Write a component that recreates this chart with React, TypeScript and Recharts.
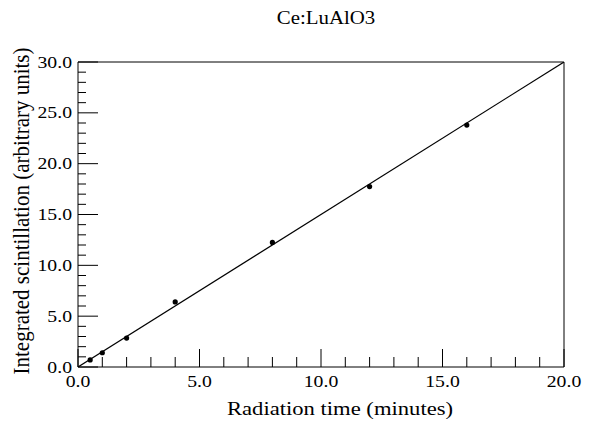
import { ComposedChart, XAxis, YAxis, Line, Scatter, ReferenceLine } from "recharts";

// measured points
const radiationTime = [0.5, 1, 2, 4, 8, 12, 16];
const scintillation = [0.7, 1.4, 2.85, 6.4, 12.25, 17.75, 23.8];

// straight fit drawn through the data
const fitTime = [0, 20];
const fitValue = [0, 30];

const xTicks = Array.from({ length: 21 }, (_, i) => i);
const yTicks = Array.from({ length: 31 }, (_, i) => i);

const points = radiationTime.map((t, i) => ({ t, v: scintillation[i] }));
const fit = fitTime.map((t, i) => ({ t, v: fitValue[i] }));

const FONT = "'Liberation Serif', 'DejaVu Serif', serif";
const TM = 6;
// the scanned figure is a bit wider than tall, so text is stretched sideways
const SX = 1.16;

const XTick = (props: any) => {
  const { x, y, payload } = props;
  const major = payload.value % 5 === 0;
  const base = y - TM;
  return (
    <g>
      <line x1={x} x2={x} y1={base} y2={base - (major ? 18 : 10)} stroke="#000" strokeWidth={1} />
      {major && (
        <text
          transform={`translate(${x},${y + 14}) scale(${SX},1)`}
          textAnchor="middle"
          fontFamily={FONT}
          fontSize={17}
          fill="#000"
        >
          {payload.value.toFixed(1)}
        </text>
      )}
    </g>
  );
};

const YTick = (props: any) => {
  const { x, y, payload } = props;
  const major = payload.value % 5 === 0;
  const base = x + TM;
  return (
    <g>
      <line x1={base} x2={base + (major ? 20 : 8)} y1={y} y2={y} stroke="#000" strokeWidth={1} />
      {major && (
        <text
          transform={`translate(${x},${y + 5.5}) scale(${SX},1)`}
          textAnchor="end"
          fontFamily={FONT}
          fontSize={17}
          fill="#000"
        >
          {payload.value.toFixed(1)}
        </text>
      )}
    </g>
  );
};

export default function App() {
  return (
    <div style={{ position: "absolute", left: 0, top: 0, width: 590, height: 427, background: "#fff" }}>
      <ComposedChart width={590} height={427} margin={{ top: 62, right: 26, bottom: 30, left: 8 }}>
        <text
          transform={`translate(326,24) scale(${SX},1)`}
          textAnchor="middle"
          fontFamily={FONT}
          fontSize={18}
          fill="#000"
        >
          Ce:LuAlO3
        </text>
        <text
          transform={`translate(29,211) scale(1.08,1) rotate(-90)`}
          textAnchor="middle"
          fontFamily={FONT}
          fontSize={21}
          fill="#000"
        >
          Integrated scintillation (arbitrary units)
        </text>
        <text
          transform={`translate(340,415) scale(${SX},1)`}
          textAnchor="middle"
          fontFamily={FONT}
          fontSize={19.5}
          fill="#000"
        >
          Radiation time (minutes)
        </text>
        <XAxis
          type="number"
          dataKey="t"
          domain={[0, 20]}
          ticks={xTicks}
          interval={0}
          allowDataOverflow
          height={30}
          tickSize={0}
          tickLine={false}
          tickMargin={TM}
          tick={<XTick />}
          axisLine={{ stroke: "#000" }}
        />
        <YAxis
          type="number"
          dataKey="v"
          domain={[0, 30]}
          ticks={yTicks}
          interval={0}
          allowDataOverflow
          width={70}
          tickSize={0}
          tickLine={false}
          tickMargin={TM}
          tick={<YTick />}
          axisLine={{ stroke: "#000" }}
        />
        <ReferenceLine x={20} stroke="#000" />
        <ReferenceLine y={30} stroke="#000" />
        <Line
          data={fit}
          dataKey="v"
          type="linear"
          stroke="#000"
          strokeWidth={1.2}
          dot={false}
          isAnimationActive={false}
        />
        <Scatter
          data={points}
          dataKey="v"
          fill="#000"
          shape={(p: any) => <circle cx={p.cx} cy={p.cy} r={2.6} fill="#000" />}
          isAnimationActive={false}
        />
      </ComposedChart>
    </div>
  );
}
